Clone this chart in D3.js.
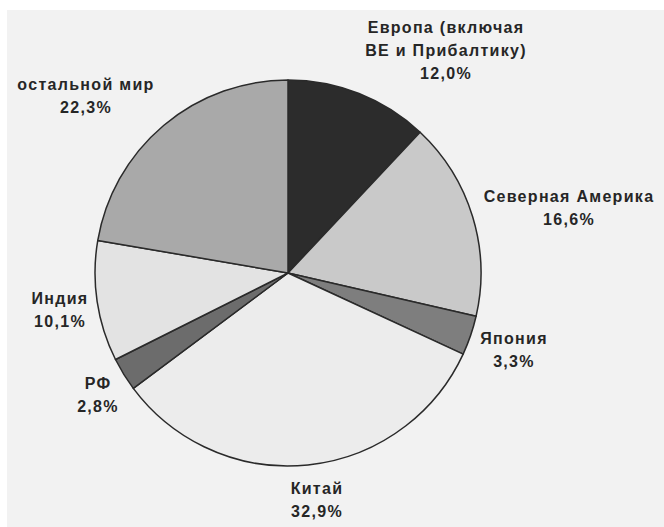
<!DOCTYPE html>
<html>
<head>
<meta charset="utf-8">
<script src="https://cdn.jsdelivr.net/npm/d3@7"></script>
<style>
  body { margin: 0; background: #fff; }
  text { font-family: "Liberation Sans", Arial, sans-serif; font-weight: bold; font-size: 16px; letter-spacing: 1.3px; fill: #262626; }
</style>
</head>
<body>
<svg id="chart"></svg>
<script>
// данные диаграммы
var regions = ["Европа (включая|ВЕ и Прибалтику)", "Северная Америка", "Япония", "Китай", "РФ", "Индия", "остальной мир"]
var shares = [12.0, 16.6, 3.3, 32.9, 2.8, 10.1, 22.3]
var shareLabels = ["12,0%", "16,6%", "3,3%", "32,9%", "2,8%", "10,1%", "22,3%"]

// оформление
var fills = ["#2c2c2c", "#c9c9c9", "#7e7e7e", "#ececec", "#6c6c6c", "#e3e3e3", "#a9a9a9"]
var labelXY = [[446, 27], [569, 196], [514, 338], [317, 488], [98, 383], [60, 298], [86, 84]]

var width = 664, height = 527
var cx = 288, cy = 273, radius = 193

var svg = d3.select("#chart")
            .attr("width", width)
            .attr("height", height)

// серый фон
svg.append("rect")
   .attr("x", 7).attr("y", 10)
   .attr("width", width - 7).attr("height", height - 10)
   .attr("fill", "#f2f2f2")

var pie = d3.pie().sort(null).value(function(d) { return d })
var arc = d3.arc().innerRadius(0).outerRadius(radius)

var g = svg.append("g")
           .attr("transform", "translate(" + cx + "," + cy + ")")

g.selectAll("path")
  .data(pie(shares))
  .enter().append("path")
    .attr("d", arc)
    .attr("fill", function(d, i) { return fills[i] })
    .attr("stroke", "#2a2a2a")
    .attr("stroke-width", 1.5)
    .attr("stroke-linejoin", "round")

// подписи
var labels = svg.selectAll(".label")
  .data(regions)
  .enter().append("text")
    .attr("class", "label")
    .attr("text-anchor", "middle")
    .attr("x", function(d, i) { return labelXY[i][0] })
    .attr("y", function(d, i) { return labelXY[i][1] })

labels.each(function(d, i) {
  var lines = d.split("|").concat([shareLabels[i]])
  var t = d3.select(this)
  lines.forEach(function(line, j) {
    t.append("tspan")
     .attr("x", labelXY[i][0])
     .attr("dy", j == 0 ? "0.35em" : 23)
     .text(line)
  })
})
</script>
</body>
</html>
